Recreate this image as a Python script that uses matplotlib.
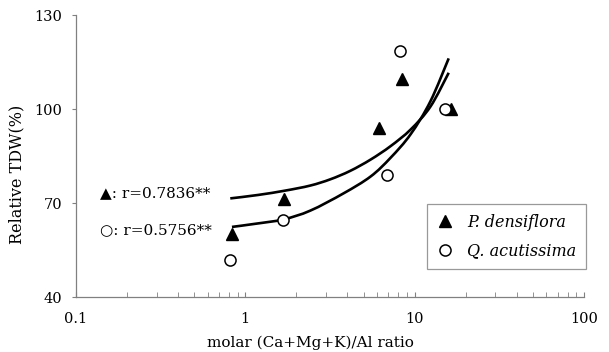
import numpy
import matplotlib
matplotlib.use("Agg")
import matplotlib.pyplot
from matplotlib.path import Path
from matplotlib.patches import PathPatch
from matplotlib.ticker import LogLocator, FixedLocator, NullFormatter

# measured points (molar ratio, relative TDW %)
pd_x = [0.83, 1.70, 6.15, 8.46, 16.5]
pd_y = [60.1, 71.2, 94.0, 109.5, 100.0]
qa_x = [0.815, 1.66, 6.9, 8.19, 15.1]
qa_y = [51.8, 64.6, 78.9, 118.6, 100.1]

# trend lines
pd_fit_x = [0.815, 1.19, 1.725, 2.42, 3.18, 4.17, 5.50, 7.22, 9.48, 12.4, 15.9]
pd_fit_y = [71.5, 72.6, 74.0, 75.6, 77.6, 80.3, 83.9, 88.2, 93.5, 100.8, 111.6]
qa_fit_x = [0.834, 1.146, 1.68, 2.42, 3.80, 5.50, 7.22, 9.48, 12.4, 15.9]
qa_fit_y = [62.4, 63.4, 64.8, 67.6, 73.1, 78.5, 84.5, 92.0, 102.5, 116.2]

y_ticks = [40, 70, 100, 130]
x_ticks = [0.1, 1, 10, 100]
x_tick_labels = ["0.1", "1", "10", "100"]

serif = ["DejaVu Serif", "DejaVu Sans"]

'''
Smooth curve through the read points (Catmull-Rom as cubic Bezier,
worked out in log10(x) so it looks right on the log axis).
'''
def smooth_path(xs, ys):
    lx = numpy.log10(xs)
    # scale y so both directions weigh about the same on screen
    ly = numpy.array(ys) / 30.0
    pts = numpy.column_stack([lx, ly])
    verts = [pts[0]]
    codes = [Path.MOVETO]
    n = len(pts)
    for i in range(n - 1):
        p0 = pts[max(i - 1, 0)]
        p1 = pts[i]
        p2 = pts[i + 1]
        p3 = pts[min(i + 2, n - 1)]
        c1 = p1 + (p2 - p0) / 6.0
        c2 = p2 - (p3 - p1) / 6.0
        verts += [c1, c2, p2]
        codes += [Path.CURVE4] * 3
    verts = numpy.array(verts)
    verts[:, 0] = 10 ** verts[:, 0]
    verts[:, 1] = verts[:, 1] * 30.0
    return Path(verts, codes)


fig = matplotlib.pyplot.figure(figsize=(6.09, 3.52), dpi=100)
ax = fig.add_axes([0.1248, 0.156, 0.834, 0.801])

ax.set_xscale("log")
ax.set_xlim(0.1, 100)
ax.set_ylim(40, 130)

for fx, fy in [(pd_fit_x, pd_fit_y), (qa_fit_x, qa_fit_y)]:
    ax.add_patch(PathPatch(smooth_path(fx, fy), facecolor="none",
                           edgecolor="black", linewidth=1.9, capstyle="butt"))

ax.plot(pd_x, pd_y, linestyle="none", marker="^", markersize=9,
        color="black", label="P. densiflora")
ax.plot(qa_x, qa_y, linestyle="none", marker="o", markersize=8,
        markerfacecolor="white", markeredgecolor="black", markeredgewidth=1.1,
        label="Q. acutissima")

ax.xaxis.set_major_locator(FixedLocator(x_ticks))
ax.set_xticklabels(x_tick_labels, family=serif, fontsize=10.5)
ax.xaxis.set_minor_locator(LogLocator(base=10, subs=range(2, 10)))
ax.xaxis.set_minor_formatter(NullFormatter())
ax.set_yticks(y_ticks)
ax.set_yticklabels([str(v) for v in y_ticks], family=serif, fontsize=10.5)

for side in ["top", "right"]:
    ax.spines[side].set_visible(False)
for side in ["left", "bottom"]:
    ax.spines[side].set_color("#808080")
    ax.spines[side].set_linewidth(0.9)

ax.tick_params(axis="x", which="both", direction="in", length=3.5,
               color="#808080", pad=11)
ax.tick_params(axis="y", direction="out", length=3, color="#808080", pad=7)

ax.set_xlabel("molar (Ca+Mg+K)/Al ratio", family=serif, fontsize=11)
ax.set_ylabel("Relative TDW(%)", family=serif, fontsize=11.5)
ax.xaxis.set_label_coords(0.461, -0.135)
ax.yaxis.set_label_coords(-0.100, 0.436)

ax.text(0.139, 73.2, "▲: r=0.7836**", family=serif, fontsize=11, va="center")
ax.text(0.139, 61.4, "○: r=0.5756**", family=serif, fontsize=11, va="center")

leg = fig.legend(loc="upper left", bbox_to_anchor=(427 / 609, 1 - 204 / 352),
                 frameon=True, fancybox=False, edgecolor="#808080",
                 prop={"family": "DejaVu Serif", "style": "italic", "size": 11.5},
                 handlelength=1.0, handletextpad=0.9, borderpad=0.6,
                 labelspacing=0.75, borderaxespad=0)
leg.get_frame().set_linewidth(0.9)

matplotlib.pyplot.savefig("out.png", dpi=100)
